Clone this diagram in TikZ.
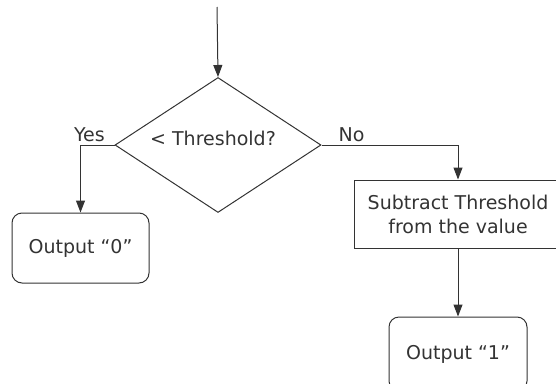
\documentclass[tikz,border=0pt]{standalone}
\usepackage{fontspec}
\setmainfont{DejaVu Sans}
\usepackage{tikz}
\usetikzlibrary{shapes.geometric,arrows.meta}

\begin{document}
\begin{tikzpicture}[x=1pt,y=-1pt,font=\fontsize{19}{24}\selectfont]%%threshold
        \tikzstyle{decision} = [diamond, draw, aspect=1.53, inner sep=0pt, minimum width=206pt, minimum height=135pt]
        \tikzstyle{block}    = [rectangle, draw, align=center, minimum width=208pt, minimum height=68pt]
        \tikzstyle{terminal} = [rectangle, draw, rounded corners=10pt, minimum width=137pt, minimum height=70pt]
        \tikzstyle{line}     = [draw, -{Triangle[length=12pt,width=9pt]}]
        \tikzstyle{branch}   = [above, inner sep=3pt]
        \useasboundingbox (0,0) rectangle (556,383);
        \begin{scope}[color=black!80, line width=1pt, text=black!80]
                \coordinate (start) at (217,7);
                \node [decision, label={[xshift=-5pt, yshift=7pt]center:< Threshold?}] (test) at (218,145) {};
                \node [terminal] (out0) at (80.5,248) {Output “0”};
                \node [block] (sub) at (458,214) {Subtract Threshold\\from the value};
                \node [terminal, minimum width=138pt, minimum height=74pt] (out1) at (458,354) {Output “1”};
                \path [line] (start) -- (test.north);
                \path [line] (test.west) -| node [branch, pos=0.37] {Yes} (out0.north);
                \path [line] (test.east) -| node [branch, pos=0.11] {No} (sub.north);
                \path [line] (sub.south) -- (out1.north);
        \end{scope}
\end{tikzpicture}
\end{document}
